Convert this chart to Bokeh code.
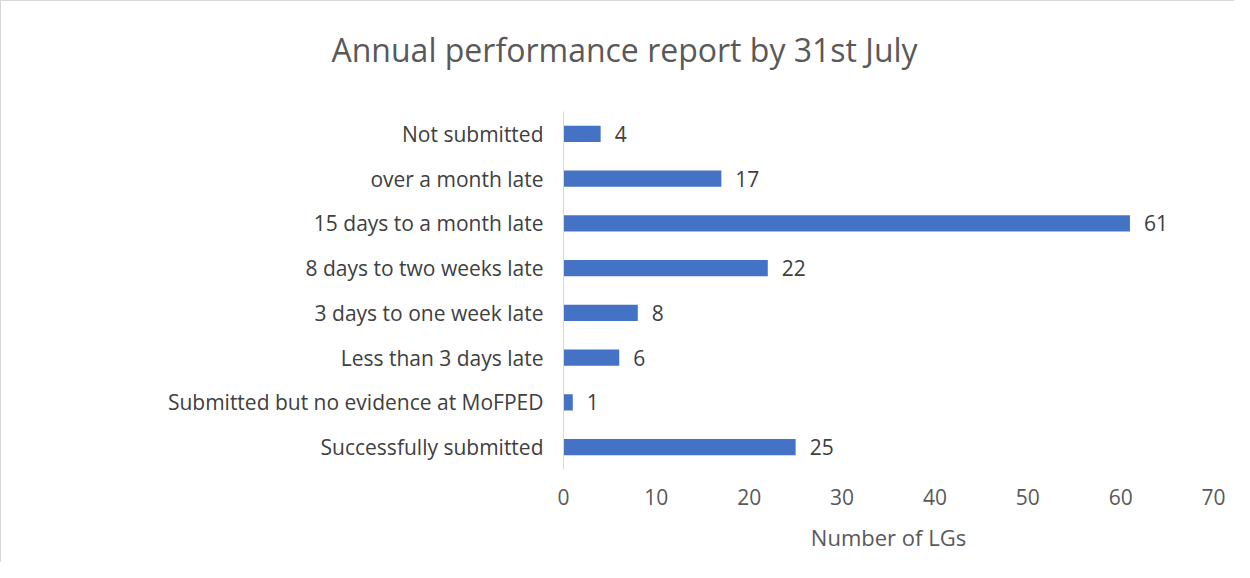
from bokeh.plotting import figure
from bokeh.models import ColumnDataSource, FactorRange, Range1d, LabelSet, Title, FixedTicker
from bokeh.core.properties import value
from bokeh.embed import file_html
from bokeh.resources import INLINE

categories = ["Successfully submitted", "Submitted but no evidence at MoFPED",
              "Less than 3 days late", "3 days to one week late",
              "8 days to two weeks late", "15 days to a month late",
              "over a month late", "Not submitted"]
values = [25, 1, 6, 8, 22, 61, 17, 4]
x_ticks = [0, 10, 20, 30, 40, 50, 60, 70]
title_text = "Annual performance report by 31st July"

FONT = "Open Sans"
TXT = "#595959"

src = ColumnDataSource(dict(cat=categories, val=values, lab=[str(v) for v in values]))

p = figure(width=1234, height=562, y_range=FactorRange(*categories, range_padding=0),
           x_range=Range1d(0, 70), output_backend="svg", toolbar_location=None,
           title=None)
p.hbar(y="cat", right="val", height=0.36, left=0, source=src, color="#4472C4",
       line_color=None)

labels = LabelSet(x="val", y="cat", text="lab", source=src, x_offset=14,
                  text_baseline="middle", text_font=value(FONT), text_font_size="21px",
                  text_color="#404040")
p.add_layout(labels)

t = Title(text=title_text, align="left", offset=-232, vertical_align="top",
          text_font=FONT, text_font_size="32px", text_font_style="normal",
          text_color=TXT, standoff=46,
          padding=dict(left=0, right=0, top=0, bottom=16))
p.add_layout(t, "above")

p.min_border_left = 562
p.min_border_right = 22
p.min_border_top = 110
p.min_border_bottom = 94
p.outline_line_color = None
p.xgrid.grid_line_color = None
p.ygrid.grid_line_color = None

p.xaxis.ticker = FixedTicker(ticks=x_ticks)
p.xaxis.axis_line_color = None
p.xaxis.major_tick_line_color = None
p.xaxis.minor_tick_line_color = None
p.xaxis.major_label_text_font = FONT
p.xaxis.major_label_text_font_size = "21px"
p.xaxis.major_label_text_color = TXT
p.xaxis.major_label_standoff = 13
p.xaxis.axis_label = "Number of LGs"
p.xaxis.axis_label_text_font = FONT
p.xaxis.axis_label_text_font_size = "22px"
p.xaxis.axis_label_text_font_style = "normal"
p.xaxis.axis_label_text_color = TXT
p.xaxis.axis_label_standoff = 14

p.yaxis.axis_line_color = "#d9d9d9"
p.yaxis.major_tick_line_color = None
p.yaxis.minor_tick_line_color = None
p.yaxis.major_label_text_font = FONT
p.yaxis.major_label_text_font_size = "21px"
p.yaxis.major_label_text_color = "#404040"
p.yaxis.major_label_standoff = 14

p.styles = {"border-left": "1px solid #d9d9d9", "border-top": "1px solid #d9d9d9"}

open("out.html", "w").write(file_html(p, INLINE))
